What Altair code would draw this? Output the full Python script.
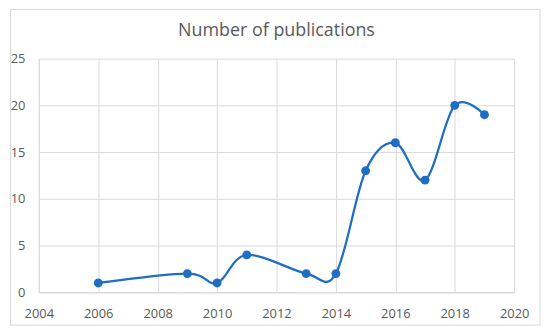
import altair as alt
import pandas as pd

years = [2006, 2009, 2010, 2011, 2013, 2014, 2015, 2016, 2017, 2018, 2019]
counts = [1, 2, 1, 4, 2, 2, 13, 16, 12, 20, 19]
x_ticks = [2004, 2006, 2008, 2010, 2012, 2014, 2016, 2018, 2020]
y_ticks = [0, 5, 10, 15, 20, 25]
title_text = ["Number of publications"]

df = pd.DataFrame({"year": years, "count": counts})

FONT = "Open Sans"
GRAY = "#595959"
GRID = "#d9d9d9"
BLUE = "#1f6ec4"

W, H = 478, 235

frame = alt.Chart(pd.DataFrame({"a": [0]})).mark_rect(
    fillOpacity=0, stroke=GRID, strokeWidth=1, clip=False
).encode(
    x=alt.value(-28.5), x2=alt.value(504),
    y=alt.value(-49.5), y2=alt.value(268)
)

title = alt.Chart(pd.DataFrame({"t": title_text})).mark_text(
    font=FONT, fontSize=18, color=GRAY, align="center", baseline="middle"
).encode(text="t:N", x=alt.value(W / 2), y=alt.value(-28))

xenc = alt.X("year:Q", scale=alt.Scale(domain=[2004, 2020], nice=False, zero=False),
             axis=alt.Axis(values=x_ticks, format="d", title=None, grid=True,
                           gridColor=GRID, domainColor=GRID, ticks=False,
                           labelFlush=False, labelBound=False,
                           labelPadding=15, labelColor=GRAY, labelFont=FONT,
                           labelFontSize=13))
yenc = alt.Y("count:Q", scale=alt.Scale(domain=[0, 25], nice=False),
             axis=alt.Axis(values=y_ticks, title=None, grid=True,
                           gridColor=GRID, domainColor=GRID, ticks=False,
                           labelFlush=False, labelBound=False,
                           labelPadding=14, labelColor=GRAY, labelFont=FONT,
                           labelFontSize=13))

line = alt.Chart(df).mark_line(
    interpolate="cardinal", tension=0, color=BLUE, strokeWidth=2.25
).encode(x=xenc, y=yenc)

pts = alt.Chart(df).mark_point(
    filled=True, color=BLUE, size=80, opacity=1
).encode(x="year:Q", y="count:Q")

chart = alt.layer(line, pts, frame, title).properties(
    width=W, height=H,
    autosize=alt.AutoSizeParams(type="none"),
    padding={"left": 31, "top": 50, "right": 28, "bottom": 35},
).configure_view(stroke=None)

chart.save("out.html", embed_options={"renderer": "svg", "actions": False})
